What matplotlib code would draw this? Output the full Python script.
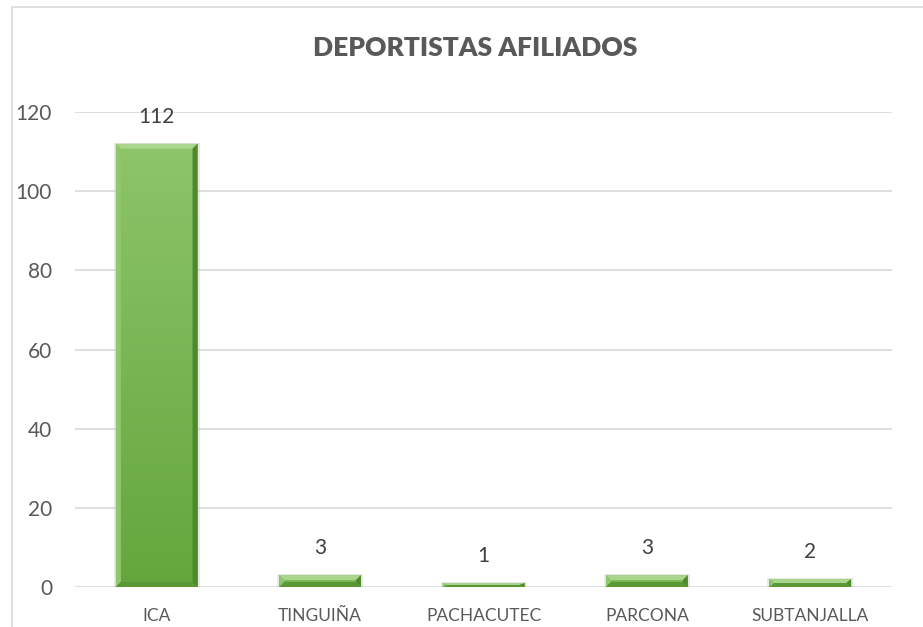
import matplotlib
matplotlib.use("Agg")
import matplotlib.pyplot as plt
import numpy as np
from matplotlib.patches import Rectangle, Polygon
from matplotlib.colors import LinearSegmentedColormap

categories = ["ICA", "TINGUIÑA", "PACHACUTEC", "PARCONA", "SUBTANJALLA"]
values = [112, 3, 1, 3, 2]
yticks = [0, 20, 40, 60, 80, 100, 120]
title = "DEPORTISTAS AFILIADOS"

plt.rcParams['font.family'] = ['Lato', 'DejaVu Sans']
W, H = 923, 627
fig = plt.figure(figsize=(W / 100, H / 100), dpi=100)
fig.patch.set_facecolor("white")

# chart border (extends past right/bottom edges)
fig.patches.append(Rectangle((12 / W, -0.1), 1.2, 1 - 7 / H + 0.1, transform=fig.transFigure,
                             fill=False, edgecolor="#D9D9D9", linewidth=1.2))

left, right = 75 / W, 892 / W
bottom, top = 1 - 587 / H, 1 - 112 / H
ax = fig.add_axes([left, bottom, right - left, top - bottom])
ax.set_xlim(-0.5, len(categories) - 0.5)
ax.set_ylim(0, 120)
for s in ax.spines.values():
    s.set_visible(False)
ax.set_yticks(yticks)
ax.yaxis.grid(True, color="#D9D9D9", linewidth=1.2)
ax.set_axisbelow(True)
ax.tick_params(axis="both", length=0, colors="#595959")
ax.tick_params(axis="y", labelsize=15, pad=16.5)
ax.tick_params(axis="x", labelsize=12.5, pad=15)
ax.set_xticks(range(len(categories)))
ax.set_xticklabels(categories)

fig.text(475 / W, 1 - 48 / H, title, ha="center", va="center", fontsize=19,
         fontweight="heavy", color="#595959")

bw = 0.5
px_x = (len(categories)) / (right - left) / W  # data units per pixel x
px_y = 120 / ((top - bottom) * H)              # data units per pixel y
cmap = LinearSegmentedColormap.from_list("g", ["#64A63C", "#8DC56B"])
grad = np.linspace(0, 1, 256).reshape(-1, 1)

for i, v in enumerate(values):
    x0, x1 = i - bw / 2, i + bw / 2
    # soft shadow
    ax.add_patch(Rectangle((x0 - 2 * px_x, -2 * px_y), bw + 4 * px_x, v + 3 * px_y,
                           facecolor="#BFBFBF", alpha=0.35, edgecolor="none", zorder=2))
    rect = Rectangle((x0, 0), bw, v, facecolor="#70AD47", edgecolor="none", zorder=3)
    ax.add_patch(rect)
    im = ax.imshow(grad, extent=(x0, x1, 0, v), origin="lower", cmap=cmap,
                   aspect="auto", zorder=3.5)
    im.set_clip_path(rect)
    # bevel
    bx = 5 * px_x
    by = min(5 * px_y, v / 2)
    ax.add_patch(Polygon([(x0, v), (x1, v), (x1 - bx, v - by), (x0 + bx, v - by)],
                         closed=True, facecolor="#A9D68C", edgecolor="none", zorder=4))
    ax.add_patch(Polygon([(x0, 0), (x0, v), (x0 + bx, v - by), (x0 + bx, by)],
                         closed=True, facecolor="#8FC86C", edgecolor="none", zorder=4))
    ax.add_patch(Polygon([(x1, 0), (x1, v), (x1 - bx, v - by), (x1 - bx, by)],
                         closed=True, facecolor="#4E8A2B", edgecolor="none", zorder=4))
    ax.add_patch(Polygon([(x0, 0), (x1, 0), (x1 - bx, by), (x0 + bx, by)],
                         closed=True, facecolor="#5A9735", edgecolor="none", zorder=4))
    ax.annotate(str(v), (i, v), xytext=(0, 12), textcoords="offset points",
                ha="center", va="bottom", fontsize=15, color="#404040")

fig.savefig("out.png", dpi=100, facecolor="white")
